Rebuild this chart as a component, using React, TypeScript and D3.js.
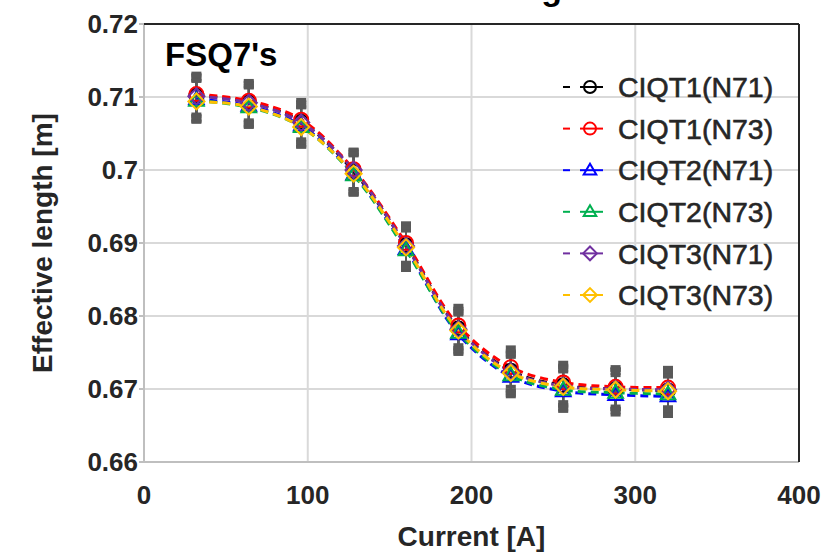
import React from "react";
import * as d3 from "d3";

const currents = [32, 64, 96, 128, 160, 192, 224, 256, 288, 320];
const ciqt1N71 = [0.7102, 0.7093, 0.7066, 0.6998, 0.6897, 0.6783, 0.6725, 0.6705, 0.67, 0.6698];
const ciqt1N73 = [0.7104, 0.7095, 0.7069, 0.7001, 0.69, 0.6787, 0.673, 0.6709, 0.6703, 0.6702];
const ciqt2N71 = [0.7097, 0.7088, 0.7061, 0.6994, 0.6892, 0.6775, 0.6717, 0.6697, 0.6692, 0.669];
const ciqt2N73 = [0.7095, 0.7086, 0.7059, 0.6993, 0.689, 0.6777, 0.6719, 0.6699, 0.6695, 0.6693];
const ciqt3N71 = [0.7101, 0.7092, 0.7065, 0.7, 0.6896, 0.6782, 0.6724, 0.6704, 0.67, 0.6699];
const ciqt3N73 = [0.7094, 0.7087, 0.7059, 0.6995, 0.6894, 0.678, 0.6722, 0.6703, 0.6699, 0.6697];
const errorHalf = [0.0028, 0.0027, 0.0027, 0.0027, 0.0027, 0.0027, 0.0027, 0.0027, 0.0027, 0.0027];
const xTicks = [0, 100, 200, 300, 400];
const yTicks = [0.66, 0.67, 0.68, 0.69, 0.7, 0.71, 0.72];

const seriesNames = ["CIQT1(N71)", "CIQT1(N73)", "CIQT2(N71)", "CIQT2(N73)", "CIQT3(N71)", "CIQT3(N73)"];
const seriesValues = [ciqt1N71, ciqt1N73, ciqt2N71, ciqt2N73, ciqt3N71, ciqt3N73];
const seriesColors = ["#000000", "#ff0000", "#0000ff", "#00b050", "#7030a0", "#ffc000"];
const seriesShapes = ["circle", "circle", "triangle", "triangle", "diamond", "diamond"];

const W = 838;
const H = 552;
const left = 144;
const right = 799;
const top = 24;
const bottom = 462;
const FONT = "'Liberation Sans', Arial, sans-serif";

function Marker({ shape, x, y, color, r }: { shape: string; x: number; y: number; color: string; r: number }) {
  if (shape === "circle") {
    return <circle cx={x} cy={y} r={r} fill="none" stroke={color} strokeWidth={2} />;
  }
  if (shape === "triangle") {
    const h = r * 1.8;
    const pts = `${x},${y - h * 0.6} ${x + r * 1.05},${y + h * 0.4} ${x - r * 1.05},${y + h * 0.4}`;
    return <polygon points={pts} fill="none" stroke={color} strokeWidth={2} />;
  }
  const d = r * 1.15;
  const pts = `${x},${y - d} ${x + d},${y} ${x},${y + d} ${x - d},${y}`;
  return <polygon points={pts} fill="none" stroke={color} strokeWidth={2} />;
}

export default function App() {
  const x = d3.scaleLinear().domain([0, 400]).range([left, right]);
  const y = d3.scaleLinear().domain([0.66, 0.72]).range([bottom, top]);
  const line = d3
    .line<number>()
    .x((_, i) => x(currents[i]))
    .y((v) => y(v))
    .curve(d3.curveCatmullRom.alpha(0.5));

  return (
    <svg width={W} height={H} style={{ position: "absolute", left: 0, top: 0, background: "#fff" }} fontFamily={FONT}>
      <rect x={0} y={0} width={W} height={H} fill="#fff" />
      <text x={562} y={0} textAnchor="end" fontSize={34} fontWeight="bold" fill="#000">
        Current Scaling
      </text>
      {/* grid */}
      {yTicks.map((t) => (
        <line key={"gy" + t} x1={left} x2={right} y1={y(t)} y2={y(t)} stroke="#d9d9d9" strokeWidth={2} />
      ))}
      {xTicks.map((t) => (
        <line key={"gx" + t} x1={x(t)} x2={x(t)} y1={top} y2={bottom} stroke="#d9d9d9" strokeWidth={2} />
      ))}
      {/* axes */}
      <line x1={left} x2={left} y1={top} y2={bottom} stroke="#bfbfbf" strokeWidth={2} />
      <line x1={left} x2={right} y1={bottom} y2={bottom} stroke="#bfbfbf" strokeWidth={2} />
      <line x1={left} x2={right} y1={top} y2={top} stroke="#262626" strokeWidth={2} />
      <line x1={right} x2={right} y1={top} y2={bottom} stroke="#262626" strokeWidth={2} />
      {yTicks.map((t) => (
        <line key={"ty" + t} x1={left - 5} x2={left} y1={y(t)} y2={y(t)} stroke="#bfbfbf" strokeWidth={2} />
      ))}
      {yTicks.map((t) => (
        <text key={"ly" + t} x={left - 6} y={y(t)} dy="0.36em" textAnchor="end" fontSize={26} fontWeight="bold" fill="#262626">
          {d3.format("")(+t.toFixed(2))}
        </text>
      ))}
      {xTicks.map((t) => (
        <text key={"lx" + t} x={x(t)} y={bottom + 42} textAnchor="middle" fontSize={26} fontWeight="bold" fill="#262626">
          {t}
        </text>
      ))}
      <text x={(left + right) / 2 + 0} y={546} textAnchor="middle" fontSize={28} fontWeight="bold" fill="#262626">
        Current [A]
      </text>
      <text
        transform={`translate(52, ${(top + bottom) / 2 + 0}) rotate(-90)`}
        textAnchor="middle"
        fontSize={28}
        fontWeight="bold"
        fill="#262626"
      >
        Effective length [m]
      </text>
      <text x={165} y={66} fontSize={33} fontWeight="bold" fill="#000">
        FSQ7's
      </text>
      {/* error bars */}
      {seriesValues.map((vals, si) => (
        <g key={"eb" + si} stroke="#595959">
          {vals.map((v, i) => (
            <g key={i}>
              <line x1={x(currents[i])} x2={x(currents[i])} y1={y(v + errorHalf[i])} y2={y(v - errorHalf[i])} strokeWidth={2} />
              <line x1={x(currents[i]) - 5} x2={x(currents[i]) + 5} y1={y(v + errorHalf[i])} y2={y(v + errorHalf[i])} strokeWidth={4} />
              <line x1={x(currents[i]) - 5} x2={x(currents[i]) + 5} y1={y(v - errorHalf[i])} y2={y(v - errorHalf[i])} strokeWidth={4} />
            </g>
          ))}
        </g>
      ))}
      {/* lines */}
      {seriesValues.map((vals, si) => (
        <path key={"ln" + si} d={line(vals) || ""} fill="none" stroke={seriesColors[si]} strokeWidth={3} strokeDasharray="8 5" />
      ))}
      {/* markers */}
      {seriesValues.map((vals, si) => (
        <g key={"mk" + si}>
          {vals.map((v, i) => (
            <Marker key={i} shape={seriesShapes[si]} x={x(currents[i])} y={y(v)} color={seriesColors[si]} r={7} />
          ))}
        </g>
      ))}
      {/* legend */}
      {seriesNames.map((name, si) => {
        const ly = 87 + si * 41.6;
        return (
          <g key={"lg" + si}>
            <line x1={563} x2={570} y1={ly} y2={ly} stroke={seriesColors[si]} strokeWidth={2} />
            <line x1={580} x2={603} y1={ly} y2={ly} stroke={seriesColors[si]} strokeWidth={2} />
            <Marker shape={seriesShapes[si]} x={590} y={ly} color={seriesColors[si]} r={6} />
            <text x={618} y={ly} dy="0.36em" fontSize={28.5} fill="#262626" stroke="#262626" strokeWidth={0.6}>
              {name}
            </text>
          </g>
        );
      })}
    </svg>
  );
}
